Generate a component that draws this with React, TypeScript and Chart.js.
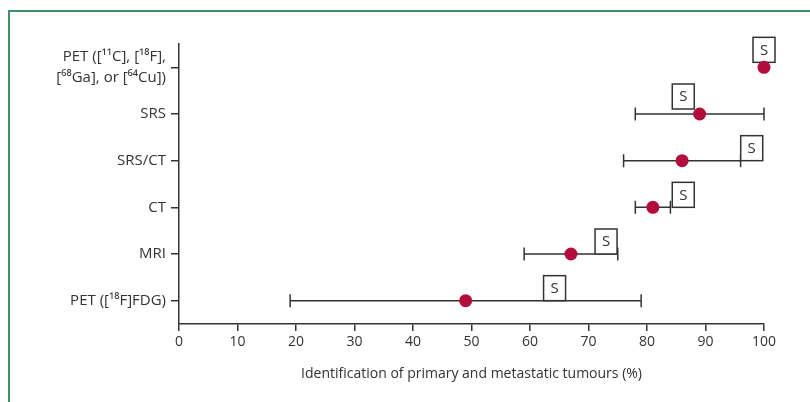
import { useEffect, useRef } from "react";
import { Chart, registerables } from "chart.js";

Chart.register(...registerables);

const categories: (string | string[])[] = [
  ["PET ([¹¹C], [¹⁸F],", "[⁶⁸Ga], or [⁶⁴Cu])"],
  "SRS",
  "SRS/CT",
  "CT",
  "MRI",
  "PET ([¹⁸F]FDG)",
];
const values = [100, 89, 86, 81, 67, 49];
const lowerCI: (number | null)[] = [null, 78, 76, 78, 59, 19];
const upperCI: (number | null)[] = [null, 100, 96, 84, 75, 79];
const sBoxX = [100, 86.2, 97.9, 86.2, 73, 64.2];
const xTicks = [0, 10, 20, 30, 40, 50, 60, 70, 80, 90, 100];

const FONT = "'Open Sans', 'DejaVu Sans', sans-serif";
const INK = "#333333";
const DOT = "#b30d3b";

export default function App() {
  const ref = useRef<HTMLCanvasElement | null>(null);
  useEffect(() => {
    if (!ref.current) return;
    const R = 6.5;
    const annot = {
      id: "annot",
      beforeDatasetsDraw(chart: any) {
        const ctx = chart.ctx;
        const xs = chart.scales.x;
        const ys = chart.scales.y;
        ctx.save();
        ctx.strokeStyle = INK;
        ctx.lineWidth = 1.5;
        lowerCI.forEach((lo, i) => {
          const hi = upperCI[i];
          if (lo == null || hi == null) return;
          const y = ys.getPixelForValue(i);
          const x1 = xs.getPixelForValue(lo);
          const x2 = xs.getPixelForValue(hi);
          ctx.beginPath();
          ctx.moveTo(x1, y);
          ctx.lineTo(x2, y);
          ctx.moveTo(x1, y - 6.5);
          ctx.lineTo(x1, y + 6.5);
          ctx.moveTo(x2, y - 6.5);
          ctx.lineTo(x2, y + 6.5);
          ctx.stroke();
        });
        const bw = 22;
        const bh = 25;
        sBoxX.forEach((v, i) => {
          const cx = xs.getPixelForValue(v);
          const y = ys.getPixelForValue(i);
          const px = xs.getPixelForValue(values[i]);
          let bottom = y;
          if (Math.abs(cx - px) < bw / 2 + R - 1) bottom = y - R + 1.5;
          const left = cx - bw / 2;
          const top = bottom - bh;
          ctx.fillStyle = "#ffffff";
          ctx.fillRect(left, top, bw, bh);
          ctx.strokeRect(left, top, bw, bh);
          ctx.fillStyle = INK;
          ctx.font = `15px ${FONT}`;
          ctx.textAlign = "center";
          ctx.textBaseline = "middle";
          ctx.fillText("S", cx, top + bh / 2 + 0.5);
        });
        ctx.restore();
      },
    };
    const chart = new Chart(ref.current, {
      type: "line",
      data: {
        labels: categories,
        datasets: [
          {
            data: values,
            showLine: false,
            clip: false,
            pointRadius: R,
            pointHoverRadius: R,
            pointBackgroundColor: DOT,
            pointBorderColor: DOT,
            pointBorderWidth: 0,
          },
        ],
      },
      options: {
        indexAxis: "y",
        animation: false,
        responsive: false,
        layout: { padding: { top: 44, right: 46, left: 0, bottom: 0 } },
        plugins: { legend: { display: false }, tooltip: { enabled: false } },
        scales: {
          y: {
            type: "category",
            offset: true,
            grid: {
              offset: false,
              drawOnChartArea: false,
              drawTicks: true,
              tickLength: 8,
              color: INK,
              lineWidth: 1.5,
            },
            border: { display: true, color: INK, width: 1.5 },
            ticks: {
              color: INK,
              padding: 5,
              font: { family: FONT, size: 15, lineHeight: 1.45 },
            },
            afterFit: (s: any) => {
              s.width = 179;
            },
          },
          x: {
            type: "linear",
            min: 0,
            max: 100,
            afterBuildTicks: (s: any) => {
              s.ticks = xTicks.map((v) => ({ value: v }));
            },
            grid: {
              drawOnChartArea: false,
              drawTicks: true,
              tickLength: 7,
              color: INK,
              lineWidth: 1.5,
            },
            border: { display: true, color: INK, width: 1.5 },
            ticks: {
              color: INK,
              padding: 3,
              maxRotation: 0,
              font: { family: FONT, size: 14 },
            },
            title: {
              display: true,
              text: "Identification of primary and metastatic tumours (%)",
              color: INK,
              font: { family: FONT, size: 14 },
              padding: { top: 0, bottom: 20 },
            },
            afterFit: (s: any) => {
              s.height = 78;
            },
          },
        },
      },
      plugins: [annot],
    } as any);
    return () => chart.destroy();
  }, []);
  return (
    <div style={{ position: "absolute", left: 0, top: 0, width: 810, height: 402, background: "#fff", overflow: "hidden" }}>
      <div
        style={{
          position: "absolute",
          left: 8,
          top: 10,
          right: -10,
          bottom: -10,
          borderTop: "2px solid #3f9068",
          borderLeft: "2px solid #3f9068",
        }}
      />
      <canvas ref={ref} width={810} height={402} style={{ position: "absolute", left: 0, top: 0 }} />
    </div>
  );
}
